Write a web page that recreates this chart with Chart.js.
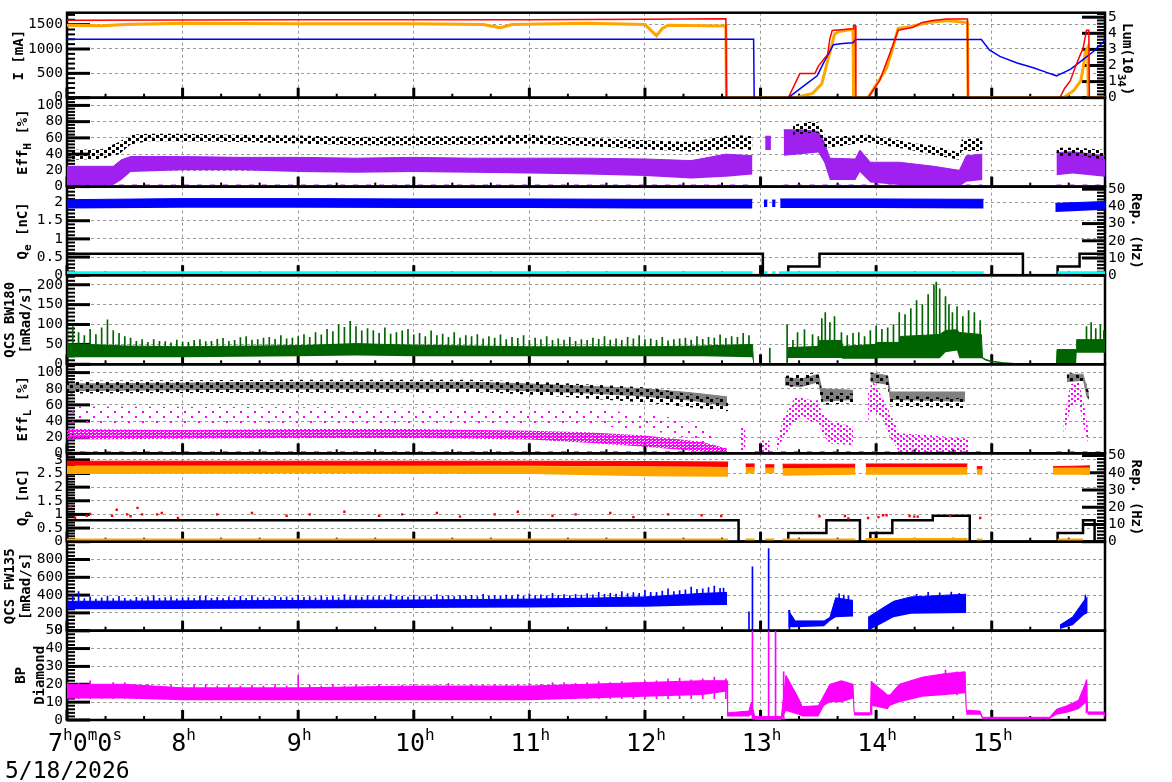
<!DOCTYPE html>
<html>
<head>
<meta charset="utf-8">
<script src="https://cdn.jsdelivr.net/npm/chart.js@4/dist/chart.umd.min.js"></script>
<style>
  body { margin: 0; background: #fff; width: 1172px; height: 782px; overflow: hidden; position: relative; }
  canvas { position: absolute; left: 0; top: 0; }
</style>
</head>
<body>
<canvas id="p1" width="1172" height="782"></canvas>
<canvas id="p2" width="1172" height="782"></canvas>
<canvas id="p3" width="1172" height="782"></canvas>
<canvas id="p4" width="1172" height="782"></canvas>
<canvas id="p5" width="1172" height="782"></canvas>
<canvas id="p6" width="1172" height="782"></canvas>
<canvas id="p7" width="1172" height="782"></canvas>
<canvas id="p8" width="1172" height="782"></canvas>
<script>
// ---- time axis (hours of the day) ----
const X_MIN = 7, X_MAX = 15.98;
const HOURS = [7, 8, 9, 10, 11, 12, 13, 14, 15];
const HOUR_LABELS = ['7^h0^m0^s', '8^h', '9^h', '10^h', '11^h', '12^h', '13^h', '14^h', '15^h'];
const DATE_LABEL = '5/18/2026';

// ---- panel 1: beam currents [mA] and luminosity [1e34] ----
const currentRed = [[7.0,1590],[8.0,1595],[9.0,1600],[10.0,1600],[11.0,1600],[12.0,1610],[12.7,1620],[12.705,0],[13.24,0],[13.34,495],[13.47,495],[13.5,648],[13.58,888],[13.6,1213],[13.62,1380],[13.8,1413],[13.805,1480],[13.82,1480],[13.825,0],[13.93,0],[14.03,349],[14.14,1047],[14.19,1387],[14.32,1446],[14.4,1546],[14.49,1586],[14.61,1616],[14.79,1616],[14.795,0],[15.59,0],[15.63,190],[15.68,349],[15.72,608],[15.76,848],[15.79,1008],[15.82,1387],[15.84,1387],[15.845,0],[15.98,0]];
const currentBlue = [[7.0,1200],[12.94,1200],[12.945,0],[13.24,0],[13.4,289],[13.49,449],[13.54,688],[13.63,1087],[13.71,1113],[13.8,1127],[13.82,1195],[14.91,1195],[14.98,981],[15.07,848],[15.22,714],[15.36,614],[15.48,515],[15.56,449],[15.68,582],[15.79,782],[15.88,948],[15.98,1181]];
const lumOrange = [[7.0,4.5],[7.3,4.47],[7.5,4.55],[8.0,4.63],[9.0,4.6],[10.0,4.6],[10.6,4.55],[10.75,4.35],[10.85,4.55],[11.5,4.62],[12.0,4.55],[12.05,4.2],[12.1,3.85],[12.15,4.3],[12.2,4.5],[12.7,4.45],[12.705,0],[13.3,0],[13.45,0.27],[13.53,0.86],[13.57,2.0],[13.62,3.36],[13.64,3.96],[13.69,4.13],[13.8,4.25],[13.805,0],[13.93,0],[14.09,1.83],[14.15,3.24],[14.19,4.31],[14.29,4.41],[14.44,4.65],[14.61,4.8],[14.79,4.67],[14.795,0],[15.62,0],[15.71,0.45],[15.77,1.04],[15.79,1.83],[15.81,2.83],[15.83,3.12],[15.835,0],[15.98,0]];

// ---- panel 2: Eff_H [%]  rows = [time, low, high] ----
const effHBlack = [[7.0,33,45],[7.3,34,46],[7.45,40,55],[7.55,52,64],[7.7,56,65],[8.0,56,65],[8.5,55,64],[9.0,53,63],[9.5,51,61],[10.0,51,62],[10.5,52,62],[11.0,53,64],[11.5,50,60],[12.0,46,57],[12.4,43,55],[12.6,45,60],[12.75,47,64],[12.93,45,62],[12.94,null,null],[13.28,64,76],[13.42,66,80],[13.5,66,79],[13.56,48,62],[13.7,50,62],[13.92,55,64],[14.1,50,60],[14.3,45,54],[14.5,39,50],[14.72,33,42],[14.74,44,58],[14.92,44,60],[14.93,null,null],[15.56,38,48],[15.75,38,48],[15.98,33,45]];
const effHPurple = [[7.0,2,25],[7.4,2,25],[7.47,8,33],[7.55,18,37],[8.0,20,37],[8.5,20,36],[9.0,18,36],[9.5,17,35],[10.0,18,36],[10.5,17,35],[11.0,16,35],[11.5,15,35],[12.0,13,34],[12.4,10,32],[12.7,12,40],[12.93,15,38],[12.94,null,null],[13.04,45,62],[13.09,45,62],[13.1,null,null],[13.2,38,70],[13.35,40,70],[13.5,42,68],[13.55,30,55],[13.6,8,35],[13.82,8,34],[13.86,18,45],[13.95,5,30],[14.2,2,30],[14.5,0,25],[14.72,0,20],[14.78,6,38],[14.92,8,40],[14.93,null,null],[15.56,14,42],[15.7,16,43],[15.98,12,38]];
const effHZero = [[7.0,0.8],[12.9,0.8],[12.91,null],[13.2,0.8],[14.92,0.8],[14.93,null],[15.56,0.8],[15.98,0.8]];

// ---- panel 3: Q_e [nC] and e- repetition [Hz] ----
const qeBlue = [[7.0,1.84,2.08],[8.0,1.86,2.11],[9.0,1.86,2.11],[10.0,1.85,2.1],[11.0,1.85,2.1],[12.0,1.84,2.09],[12.93,1.84,2.09],[12.94,null,null],[13.03,1.88,2.07],[13.06,1.88,2.07],[13.065,null,null],[13.1,1.88,2.07],[13.13,1.88,2.07],[13.135,null,null],[13.17,1.85,2.1],[14.0,1.85,2.1],[14.93,1.84,2.09],[14.94,null,null],[15.55,1.74,1.98],[15.98,1.8,2.03]];
const repE = [[7.0,12.5],[13.02,0],[13.24,5],[13.51,12.5],[15.27,0],[15.57,5],[15.76,12.5],[15.98,12.5]];
const repCyan = [[7.0,0.8],[12.93,0.8],[12.94,null],[13.03,0.8],[13.06,0.8],[13.07,null],[13.1,0.8],[13.13,0.8],[13.14,null],[13.16,0.8],[14.93,0.8],[14.94,null],[15.57,0.8],[15.98,0.8]];

// ---- panel 4: QCS BW180 [mRad/s] ----
const bw180Band = [[7.0,18,52],[7.5,18,46],[8.0,18,44],[9.0,20,47],[9.5,22,52],[10.0,20,48],[11.0,20,44],[12.0,20,44],[12.5,20,46],[12.93,18,50],[12.94,0,1.5],[13.23,0,1.5],[13.24,16,42],[13.5,16,45],[13.51,16,60],[13.7,16,60],[13.71,14,45],[13.99,14,50],[14.0,15,55],[14.2,15,55],[14.21,15,70],[14.55,15,75],[14.6,30,85],[14.7,35,87],[14.72,15,80],[14.91,15,75],[14.92,14,17],[14.95,9,12],[15.0,5,8],[15.1,2,4],[15.2,0,2],[15.56,0,1.5],[15.565,0,37],[15.73,0,37],[15.735,29,62],[15.98,29,62]];
const bw180Spikes = [[7.0,30,88],[7.05,30,95],[7.1,30,80],[7.15,30,72],[7.2,30,88],[7.25,30,75],[7.3,30,92],[7.35,30,112],[7.4,30,85],[7.45,30,78],[7.5,30,70],[7.55,30,66],[7.6,30,58],[7.65,30,62],[7.7,30,55],[7.75,30,62],[7.8,30,58],[7.85,30,57],[7.9,30,54],[7.95,30,61],[8.0,30,56],[8.05,30,55],[8.1,30,60],[8.15,30,62],[8.2,30,57],[8.25,30,58],[8.3,30,63],[8.35,30,65],[8.4,30,58],[8.45,30,60],[8.5,30,67],[8.55,30,70],[8.6,30,61],[8.65,30,62],[8.7,30,66],[8.75,30,68],[8.8,30,63],[8.85,30,72],[8.9,30,64],[8.95,30,66],[9.0,30,70],[9.05,30,75],[9.1,30,68],[9.15,30,80],[9.2,30,74],[9.25,30,88],[9.3,30,82],[9.35,30,100],[9.4,30,93],[9.45,30,108],[9.5,30,95],[9.55,30,84],[9.6,30,90],[9.65,30,85],[9.7,30,78],[9.75,30,92],[9.8,30,76],[9.85,30,80],[9.9,30,84],[9.95,30,88],[10.0,30,74],[10.05,30,78],[10.1,30,70],[10.15,30,84],[10.2,30,72],[10.25,30,76],[10.3,30,68],[10.35,30,80],[10.4,30,66],[10.45,30,72],[10.5,30,70],[10.55,30,75],[10.6,30,64],[10.65,30,70],[10.7,30,66],[10.75,30,74],[10.8,30,62],[10.85,30,68],[10.9,30,65],[10.95,30,72],[11.0,30,60],[11.05,30,66],[11.1,30,62],[11.15,30,70],[11.2,30,60],[11.25,30,64],[11.3,30,61],[11.35,30,68],[11.4,30,58],[11.45,30,62],[11.5,30,60],[11.55,30,66],[11.6,30,63],[11.65,30,70],[11.7,30,61],[11.75,30,64],[11.8,30,60],[11.85,30,68],[11.9,30,64],[11.95,30,72],[12.0,30,62],[12.05,30,64],[12.1,30,60],[12.15,30,68],[12.2,30,59],[12.25,30,62],[12.3,30,64],[12.35,30,66],[12.4,30,61],[12.45,30,70],[12.5,30,63],[12.55,30,68],[12.6,30,66],[12.65,30,74],[12.7,30,65],[12.75,30,70],[12.8,30,68],[12.85,30,78],[12.9,30,72],[13.08,0,41],[13.23,0,100],[13.28,25,60],[13.32,25,80],[13.38,25,87],[13.45,25,75],[13.5,25,70],[13.53,25,115],[13.56,25,130],[13.6,25,105],[13.64,25,120],[13.7,25,80],[13.75,25,72],[13.8,25,78],[13.85,25,80],[13.9,25,70],[13.95,25,85],[14.0,25,96],[14.05,25,88],[14.1,25,92],[14.15,25,100],[14.2,25,130],[14.25,25,125],[14.3,25,140],[14.35,25,160],[14.4,25,150],[14.45,25,175],[14.5,25,200],[14.52,25,207],[14.55,25,190],[14.6,40,170],[14.63,40,150],[14.66,40,130],[14.7,40,145],[14.75,25,120],[14.8,25,135],[14.85,25,130],[14.9,25,110],[15.82,35,95],[15.86,35,105],[15.9,35,90],[15.94,35,100],[15.97,35,85]];

// ---- panel 5: Eff_L [%] ----
const effLGray = [[7.0,77,86],[8.0,78,87],[9.0,79,88],[10.0,79,88],[10.5,80,88],[11.0,77,86],[11.5,74,83],[12.0,70,80],[12.4,65,75],[12.71,58,70],[12.72,null,null],[13.21,84,94],[13.35,82,92],[13.5,88,98],[13.53,64,80],[13.8,66,78],[13.81,null,null],[13.95,88,100],[14.1,85,96],[14.12,66,76],[14.77,64,76],[14.78,null,null],[15.65,88,98],[15.79,90,98],[15.82,70,82],[15.84,66,76]];
const effLBlack = [[7.0,74,90],[9.0,75,91],[10.5,76,91],[11.0,73,89],[12.0,63,82],[12.72,52,66],[12.73,null,null],[13.22,82,96],[13.5,86,100],[13.53,60,76],[13.8,62,74],[13.81,null,null],[13.95,90,100],[14.1,84,96],[14.12,58,72],[14.78,56,68],[14.79,null,null],[15.65,90,100],[15.8,88,96],[15.84,64,74]];
const effLMagenta = [[7.0,17,30],[8.0,18,29],[9.0,19,30],[10.0,19,30],[11.0,17,28],[11.5,13,26],[12.0,8,22],[12.5,2,14],[12.71,0,6]];
const effLMagentaLate = [[12.82,4,33],[12.87,4,30],[12.88,null,null],[13.0,0,16],[13.08,0,16],[13.09,null,null],[13.13,0,8],[13.2,20,45],[13.3,40,70],[13.38,45,68],[13.45,38,65],[13.5,40,66],[13.53,25,50],[13.6,12,40],[13.8,10,33],[13.81,null,null],[13.93,40,75],[13.97,55,90],[14.05,45,70],[14.12,20,50],[14.2,2,25],[14.5,0,22],[14.8,0,18],[14.81,null,null],[15.62,20,40],[15.68,55,85],[15.75,65,90],[15.8,30,60],[15.84,10,25]];
const effLMagentaSparse = [[7.0,36,58],[11.5,36,56],[12.2,25,45],[12.6,10,30]];
const effLZero = [[7.0,0.8],[12.72,0.8],[12.73,null],[12.95,0.8],[14.92,0.8],[14.93,null],[15.56,0.8],[15.98,0.8]];

// ---- panel 6: Q_p [nC] and p repetition [Hz] ----
const qpRed = [[7.0,2.78,2.95],[9.0,2.78,2.95],[11.0,2.78,2.95],[12.0,2.76,2.94],[12.72,2.74,2.92],[12.73,null,null],[12.87,2.68,2.85],[12.95,2.68,2.85],[12.96,null,null],[13.04,2.66,2.82],[13.12,2.66,2.82],[13.13,null,null],[13.19,2.66,2.84],[13.82,2.66,2.84],[13.83,null,null],[13.91,2.66,2.85],[14.79,2.66,2.85],[14.8,null,null],[14.87,2.6,2.75],[14.92,2.6,2.75],[14.93,null,null],[15.53,2.55,2.75],[15.85,2.55,2.78]];
const qpOrange = [[7.0,2.48,2.76],[9.0,2.5,2.76],[11.0,2.48,2.75],[12.0,2.4,2.74],[12.72,2.38,2.72],[12.73,null,null],[12.87,2.5,2.72],[12.95,2.5,2.72],[12.96,null,null],[13.04,2.5,2.7],[13.12,2.5,2.7],[13.13,null,null],[13.19,2.42,2.68],[13.82,2.45,2.7],[13.83,null,null],[13.91,2.45,2.72],[14.79,2.45,2.72],[14.8,null,null],[14.87,2.45,2.65],[14.92,2.45,2.65],[14.93,null,null],[15.53,2.45,2.7],[15.85,2.45,2.7]];
const qpOrangeLow = [[7.0,0.06],[12.72,0.06],[12.73,null],[12.87,0.06],[12.95,0.06],[12.96,null],[13.04,0.06],[13.12,0.06],[13.13,null],[13.19,0.06],[13.82,0.06],[13.83,null],[13.91,0.08],[14.79,0.08],[14.8,null],[14.87,0.06],[14.92,0.06],[14.93,null],[15.57,0.06],[15.79,0.06]];
const qpRedDots = [[7.03,1.3],[7.07,0.88],[7.17,0.95],[7.2,1.02],[7.39,0.95],[7.43,1.17],[7.52,1.0],[7.55,0.93],[7.61,1.24],[7.65,1.0],[7.78,1.0],[7.82,1.05],[7.96,0.87],[8.3,1.0],[8.6,1.05],[8.9,0.95],[9.1,1.0],[9.4,1.1],[9.7,0.95],[9.9,1.0],[10.2,1.05],[10.4,0.92],[10.7,1.0],[10.9,1.1],[11.2,0.95],[11.4,1.0],[11.7,1.05],[11.9,0.9],[12.2,1.0],[12.49,0.97],[12.66,0.94],[13.51,0.93],[13.73,0.94],[13.76,0.85],[13.93,0.87],[14.02,0.9],[14.06,0.97],[14.09,0.97],[14.29,0.94],[14.33,0.92],[14.36,0.92],[14.64,0.94],[14.9,0.87]];
const repP = [[7.0,12.5],[12.81,0],[13.24,5],[13.57,12.5],[13.86,0],[13.95,5],[14.14,12.5],[14.49,15],[14.81,0],[15.57,5],[15.79,12.5],[15.89,0],[15.98,0]];

// ---- panel 7: QCS FW135 [mRad/s] ----
const fw135Band = [[7.0,240,330],[8.0,245,335],[9.0,250,340],[10.0,255,345],[11.0,260,355],[11.5,265,365],[12.0,270,380],[12.5,285,420],[12.71,290,430],[12.715,null,null],[13.24,40,230],[13.3,40,110],[13.55,50,110],[13.6,110,150],[13.65,150,370],[13.8,160,340],[13.81,null,null],[13.93,0,150],[14.05,80,250],[14.15,150,330],[14.3,190,380],[14.78,200,410],[14.785,null,null],[15.59,20,63],[15.7,60,155],[15.8,180,340],[15.83,200,380],[15.835,null,null]];
const fw135Spikes = [[7.0,300,380],[7.05,300,400],[7.1,300,440],[7.15,300,360],[7.2,300,380],[7.25,300,355],[7.3,300,370],[7.35,300,390],[7.4,300,360],[7.45,300,385],[7.5,300,365],[7.55,300,350],[7.6,300,375],[7.65,300,360],[7.7,300,380],[7.75,300,395],[7.8,300,365],[7.85,300,372],[7.9,300,380],[7.95,300,358],[8.0,300,370],[8.05,300,372],[8.1,300,360],[8.15,300,385],[8.2,300,390],[8.25,300,365],[8.3,300,375],[8.35,300,360],[8.4,300,380],[8.45,300,370],[8.5,300,385],[8.55,300,365],[8.6,300,395],[8.65,300,370],[8.7,300,378],[8.75,300,362],[8.8,300,385],[8.85,300,372],[8.9,300,380],[8.95,300,368],[9.0,300,400],[9.05,300,375],[9.1,300,382],[9.15,300,368],[9.2,300,390],[9.25,300,375],[9.3,300,385],[9.35,300,372],[9.4,300,405],[9.45,300,380],[9.5,300,388],[9.55,300,374],[9.6,300,395],[9.65,300,380],[9.7,300,392],[9.75,300,378],[9.8,300,410],[9.85,300,385],[9.9,300,390],[9.95,300,378],[10.0,300,400],[10.05,300,384],[10.1,300,392],[10.15,300,380],[10.2,300,405],[10.25,300,386],[10.3,300,394],[10.35,300,382],[10.4,300,395],[10.45,300,388],[10.5,300,398],[10.55,300,384],[10.6,300,410],[10.65,300,390],[10.7,300,396],[10.75,300,385],[10.8,300,400],[10.85,300,392],[10.9,300,405],[10.95,300,390],[11.0,300,415],[11.05,300,395],[11.1,300,402],[11.15,300,392],[11.2,300,420],[11.25,300,398],[11.3,300,405],[11.35,300,395],[11.4,300,410],[11.45,300,400],[11.5,300,418],[11.55,300,402],[11.6,300,430],[11.65,300,410],[11.7,300,420],[11.75,300,412],[11.8,300,440],[11.85,300,418],[11.9,300,428],[11.95,300,420],[12.0,300,455],[12.05,300,430],[12.1,300,430],[12.15,300,445],[12.2,300,470],[12.25,300,440],[12.3,300,450],[12.35,300,460],[12.4,300,490],[12.45,300,465],[12.5,300,470],[12.55,300,485],[12.6,300,500],[12.65,300,475],[12.68,300,480],[12.9,0,211],[12.93,0,719],[13.07,0,922],[13.25,0,230],[13.68,200,415],[13.72,200,400],[13.76,200,390],[14.35,250,410],[14.45,250,430],[14.55,250,425],[14.65,250,433],[14.72,250,420],[15.81,200,400]];

// ---- panel 8: BP Diamond ----
const bpBand = [[7.0,12,20],[7.5,12,20],[8.0,11,18],[9.0,11,18],[10.0,11,19],[11.0,11,19],[11.5,12,20],[12.0,13,21],[12.5,14,22],[12.71,16,22],[12.715,2,4],[12.9,2,5],[12.92,3,10],[12.95,0,2],[13.18,0,2],[13.22,5,25],[13.33,3,12],[13.36,2,7.5],[13.5,2,8],[13.55,8,14],[13.6,10,20],[13.7,10,22],[13.8,12,20],[13.81,2.5,4],[13.95,2.5,4],[13.96,8,21.5],[14.1,6,14],[14.12,8,14],[14.2,10,20],[14.4,13,24],[14.6,14,26],[14.77,15,27],[14.78,3,5.5],[14.9,3,5],[14.92,0.5,1.5],[15.5,0.5,1.5],[15.56,3,6],[15.65,4,8],[15.75,6,11],[15.82,10,22],[15.83,3,4.5],[15.97,3,4.5],[15.98,1,3]];
const bpSpikes = [[7.0,12,21],[7.1,12,20.5],[7.2,12,22],[7.3,12,20],[7.4,12,21],[7.5,12,21],[7.6,12,19.5],[7.7,12,20],[7.8,12,19],[7.9,12,19.5],[8.0,12,19],[8.1,12,19.5],[8.2,12,20],[8.3,12,19],[8.4,12,19.5],[8.5,12,19],[8.6,12,19.5],[8.7,12,19],[8.8,12,20],[8.9,12,19],[9.0,12,25],[9.1,12,19.5],[9.2,12,19],[9.3,12,20],[9.4,12,19],[9.5,12,19.5],[9.6,12,19],[9.7,12,20],[9.8,12,19],[9.9,12,19.5],[10.0,12,20],[10.1,12,19],[10.2,12,19.5],[10.3,12,20.5],[10.4,12,19],[10.5,12,20],[10.6,12,19.5],[10.7,12,20],[10.8,12,19.5],[10.9,12,20],[11.0,12,20.5],[11.1,12,20],[11.2,12,21],[11.3,12,21],[11.4,12,20.5],[11.5,12,21],[11.6,12,21.5],[11.7,12,21],[11.8,12,21.5],[11.9,12,21],[12.0,12,22],[12.1,12,22],[12.2,12,23],[12.3,12,23.5],[12.4,12,22.5],[12.5,12,23],[12.6,12,24],[12.7,12,23],[12.93,0,50],[13.07,0,50],[13.13,0,50],[13.2,0,27],[13.96,3,21.5],[14.6,14,28],[14.7,14,27],[15.82,4,22.5]];

// ---- layout ----
const MONO = '"DejaVu Sans Mono", "Liberation Mono", monospace';
const W = 1172, H = 782, PLOT_R = 1105;
const EDGES = [9.3, 97.7, 186.6, 275.2, 364.3, 453.3, 541.7, 630.7, 720];
Chart.defaults.font.family = MONO;
Chart.defaults.color = '#000';

function speckle(color, w, h, spots, size) {
  const c = document.createElement('canvas');
  c.width = w; c.height = h;
  const g = c.getContext('2d');
  g.fillStyle = color;
  spots.forEach(([x, y]) => g.fillRect(x, y, size, size));
  return g.createPattern(c, 'repeat');
}

function band(rows, fillStyle, axis, edge) {
  return [
    { data: rows.map(r => ({ x: r[0], y: r[1] })), yAxisID: axis, borderWidth: 0, pointRadius: 0, fill: false },
    { data: rows.map(r => ({ x: r[0], y: r[2] })), yAxisID: axis, borderWidth: edge ? 1 : 0,
      borderColor: edge || 'rgba(0,0,0,0)', pointRadius: 0, fill: '-1', backgroundColor: fillStyle }
  ];
}
function trace(rows, color, width, axis, extra) {
  return Object.assign({ data: rows.map(r => ({ x: r[0], y: r[1] })), yAxisID: axis, borderColor: color,
    borderWidth: width, pointRadius: 0, fill: false }, extra || {});
}
function spikes(rows, color, axis) {
  return { type: 'bar', data: rows.map(r => ({ x: r[0], y: [r[1], r[2]] })), yAxisID: axis,
    backgroundColor: color, barThickness: 1, borderWidth: 0 };
}
function dots(rows, color, axis) {
  return { data: rows.map(r => ({ x: r[0], y: r[1] })), yAxisID: axis, showLine: false, pointStyle: 'rect',
    pointRadius: 1.7, pointBackgroundColor: color, pointBorderWidth: 0 };
}

// rich text: "_x" subscript, "^x" or "^{..}" superscript
function parseRich(str) {
  const out = [];
  for (let i = 0; i < str.length; i++) {
    const c = str[i];
    if (c === '_' || c === '^') {
      let t = str[i + 1];
      if (t === '{') { const j = str.indexOf('}', i); t = str.slice(i + 2, j); i = j; } else i++;
      out.push({ t, kind: c === '_' ? 'sub' : 'sup' });
    } else if (out.length && !out[out.length - 1].kind) out[out.length - 1].t += c;
    else out.push({ t: c });
  }
  return out;
}
function drawRich(ctx, str, f) {
  const parts = parseRich(str);
  let w = 0;
  parts.forEach(p => { ctx.font = p.kind ? f.small : f.main; p.w = ctx.measureText(p.t).width; w += p.w; });
  let x = f.align === 'center' ? -w / 2 : 0;
  parts.forEach(p => {
    ctx.font = p.kind ? f.small : f.main;
    ctx.fillText(p.t, x, p.kind === 'sub' ? f.subDy : p.kind === 'sup' ? f.supDy : 0);
    x += p.w;
  });
  return w;
}
function richWidth(ctx, str, f) {
  let w = 0;
  parseRich(str).forEach(p => { ctx.font = p.kind ? f.small : f.main; w += ctx.measureText(p.t).width; });
  return w;
}

function seg(ctx, x1, y1, x2, y2, lw) {
  ctx.lineWidth = lw;
  ctx.beginPath(); ctx.moveTo(x1, y1); ctx.lineTo(x2, y2); ctx.stroke();
}
function yTicks(ctx, s, x0, dir, minor) {
  s.ticks.forEach(t => { const y = s.getPixelForValue(t.value); seg(ctx, x0, y, x0 + dir * 23, y, 3); });
  for (let i = 0; i * minor <= s.max + 1e-9; i++) {
    const y = s.getPixelForValue(i * minor);
    seg(ctx, x0, y, x0 + dir * 8, y, 2);
  }
}

const TITLE = { main: 'bold 14px ' + MONO, small: 'bold 11px ' + MONO, subDy: 5, supDy: -6, align: 'center' };

const decor = {
  id: 'decor',
  beforeDatasetsDraw(chart, args, o) {
    const { ctx, chartArea: a, scales } = chart;
    ctx.save();
    ctx.strokeStyle = '#000';
    for (let i = 0; ; i++) {
      const t = X_MIN + i / 3;
      if (t > X_MAX) break;
      const x = scales.x.getPixelForValue(t), major = i % 3 === 0;
      seg(ctx, x, a.bottom, x, a.bottom - (major ? 10 : 4), major ? 3 : 2);
    }
    yTicks(ctx, scales.y, a.left, 1, o.minor);
    if (scales.y2) yTicks(ctx, scales.y2, a.right, -1, o.minorRight);
    ctx.lineWidth = 2.5;
    ctx.strokeRect(a.left, a.top, a.right - a.left, a.bottom - a.top);
    ctx.restore();
  },
  afterDraw(chart, args, o) {
    const { ctx, chartArea: a, scales } = chart;
    const cy = (a.top + a.bottom) / 2;
    ctx.save();
    ctx.fillStyle = '#000';
    ctx.textBaseline = 'middle';
    (o.titleLeft || []).forEach(l => {
      ctx.save(); ctx.translate(a.left + l.dx, cy + (l.dy || 0)); ctx.rotate(-Math.PI / 2);
      drawRich(ctx, l.text, TITLE); ctx.restore();
    });
    (o.titleRight || []).forEach(l => {
      ctx.save(); ctx.translate(a.right + l.dx, cy + (l.dy || 0)); ctx.rotate(Math.PI / 2);
      drawRich(ctx, l.text, Object.assign({}, TITLE, { supDy: 6 })); ctx.restore();
    });
    if (o.xLabels) {
      const f = { main: '25px ' + MONO, small: '16px ' + MONO, subDy: 0, supDy: -11, align: 'left' };
      ctx.textBaseline = 'alphabetic';
      HOURS.forEach((h, i) => {
        const x = scales.x.getPixelForValue(h);
        const w = richWidth(ctx, HOUR_LABELS[i], f);
        ctx.save();
        ctx.translate(i === 0 ? x - 19 : x + 1 - w / 2, a.bottom + 31);
        drawRich(ctx, HOUR_LABELS[i], f);
        ctx.restore();
      });
      ctx.font = '23px ' + MONO;
      ctx.fillText(DATE_LABEL, 5, a.bottom + 58);
    }
    ctx.restore();
  }
};

function yAxis(ax, position) {
  return {
    type: 'linear', position, min: 0, max: ax.max,
    afterBuildTicks: s => { s.ticks = ax.ticks.map(v => ({ value: v })); },
    afterFit: s => { s.width = 67; },
    ticks: { autoSkip: false, padding: position === 'left' ? 4 : 3, font: { size: 14.5 }, color: '#000', callback: v => String(v) },
    grid: { display: position === 'left', color: '#9a9a9a', lineWidth: 1, drawTicks: false },
    border: { display: false, dash: [3, 3] }
  };
}

function panel(idx, opt) {
  const top = EDGES[idx], bottom = EDGES[idx + 1];
  const datasets = opt.datasets.flat();
  datasets.forEach((d, i) => { d.order = datasets.length - i; });
  const scales = {
    x: {
      type: 'linear', min: X_MIN, max: X_MAX, offset: false,
      afterBuildTicks: s => { s.ticks = HOURS.map(v => ({ value: v })); },
      afterFit: s => { s.height = 0; },
      ticks: { display: false },
      grid: { color: '#9a9a9a', lineWidth: 1, drawTicks: false, offset: false },
      border: { display: false, dash: [3, 3] }
    },
    y: yAxis(opt.left, 'left')
  };
  if (opt.right) scales.y2 = yAxis(opt.right, 'right');
  return new Chart(document.getElementById('p' + (idx + 1)), {
    type: 'line',
    data: { datasets },
    options: {
      responsive: false, animation: false, events: [],
      layout: { padding: { top, bottom: H - bottom, left: 0, right: opt.right ? 0 : W - PLOT_R } },
      elements: { line: { tension: 0 } },
      plugins: {
        legend: { display: false }, tooltip: { enabled: false },
        decor: { minor: opt.left.minor, minorRight: opt.right ? opt.right.minor : 0,
          titleLeft: opt.titleLeft, titleRight: opt.titleRight, xLabels: !!opt.xLabels }
      },
      scales
    },
    plugins: [decor]
  });
}

const PURPLE = '#a020f0', MAGENTA = '#ff00ff', ORANGE = '#ffa500';

panel(0, {
  left: { max: 1745, ticks: [0, 500, 1000, 1500], minor: 100 },
  right: { max: 5.28, ticks: [0, 1, 2, 3, 4, 5], minor: 0.2 },
  titleLeft: [{ text: 'I [mA]', dx: -48 }],
  titleRight: [{ text: 'Lum(10^{34})', dx: 22, dy: 4 }],
  datasets: [
    trace(lumOrange, ORANGE, 3, 'y2'),
    trace(currentBlue, '#0000ff', 1.5, 'y'),
    trace(currentRed, '#ff0000', 1.5, 'y')
  ]
});

panel(1, {
  left: { max: 109.5, ticks: [0, 20, 40, 60, 80, 100], minor: 4 },
  titleLeft: [{ text: 'Eff_H [%]', dx: -44 }],
  datasets: [
    band(effHPurple, PURPLE, 'y', PURPLE),
    trace(effHZero, PURPLE, 3, 'y', { borderDash: [5, 8] }),
    band(effHBlack, speckle('#000', 8, 6, [[0, 0], [4, 3]], 3), 'y')
  ]
});

panel(2, {
  left: { max: 2.44, ticks: [0, 0.5, 1, 1.5, 2], minor: 0.1 },
  right: { max: 51.5, ticks: [0, 10, 20, 30, 40, 50], minor: 2 },
  titleLeft: [{ text: 'Q_e [nC]', dx: -44 }],
  titleRight: [{ text: 'Rep. (Hz)', dx: 31 }],
  datasets: [
    trace(repE, '#000', 2.5, 'y2', { stepped: 'before' }),
    band(qeBlue, '#0000ff', 'y', '#0000ff'),
    trace(repCyan, '#00ffff', 5, 'y2')
  ]
});

panel(3, {
  left: { max: 224, ticks: [0, 50, 100, 150, 200], minor: 10 },
  titleLeft: [{ text: 'QCS BW180', dx: -56.5 }, { text: '[mRad/s]', dx: -40.5 }],
  datasets: [
    spikes(bw180Spikes, '#006400', 'y'),
    band(bw180Band, '#006400', 'y', '#006400')
  ]
});

panel(4, {
  left: { max: 110.3, ticks: [0, 20, 40, 60, 80, 100], minor: 4 },
  titleLeft: [{ text: 'Eff_L [%]', dx: -44 }],
  datasets: [
    band(effLMagentaSparse, speckle(MAGENTA, 14, 10, [[2, 1], [9, 6]], 2), 'y'),
    band(effLMagenta, speckle(MAGENTA, 4, 3, [[0, 0], [2, 1], [1, 2]], 2), 'y'),
    band(effLMagentaLate, speckle(MAGENTA, 6, 5, [[0, 0], [3, 3]], 2), 'y'),
    trace(effLZero, MAGENTA, 3, 'y', { borderDash: [5, 8] }),
    band(effLGray, '#808080', 'y', '#808080'),
    band(effLBlack, speckle('#000', 10, 7, [[0, 0], [6, 4]], 3), 'y')
  ]
});

panel(5, {
  left: { max: 3.24, ticks: [0, 0.5, 1, 1.5, 2, 2.5, 3], minor: 0.1 },
  right: { max: 51.3, ticks: [0, 10, 20, 30, 40, 50], minor: 2 },
  titleLeft: [{ text: 'Q_p [nC]', dx: -44 }],
  titleRight: [{ text: 'Rep. (Hz)', dx: 31 }],
  datasets: [
    trace(repP, '#000', 2.5, 'y2', { stepped: 'before' }),
    trace(qpOrangeLow, ORANGE, 3, 'y'),
    band(qpRed, '#ff0000', 'y', '#ff0000'),
    band(qpOrange, ORANGE, 'y', ORANGE),
    dots(qpRedDots, '#ff0000', 'y')
  ]
});

panel(6, {
  left: { max: 1000, ticks: [0, 200, 400, 600, 800], minor: 40 },
  titleLeft: [{ text: 'QCS FW135', dx: -56.5 }, { text: '[mRad/s]', dx: -40.5 }],
  datasets: [
    spikes(fw135Spikes, '#0000ff', 'y'),
    band(fw135Band, '#0000ff', 'y', '#0000ff')
  ]
});

panel(7, {
  left: { max: 50, ticks: [0, 10, 20, 30, 40, 50], minor: 2 },
  titleLeft: [{ text: 'BP', dx: -46 }, { text: 'Diamond', dx: -27 }],
  xLabels: true,
  datasets: [
    spikes(bpSpikes, MAGENTA, 'y'),
    band(bpBand, MAGENTA, 'y', MAGENTA)
  ]
});
</script>
</body>
</html>
